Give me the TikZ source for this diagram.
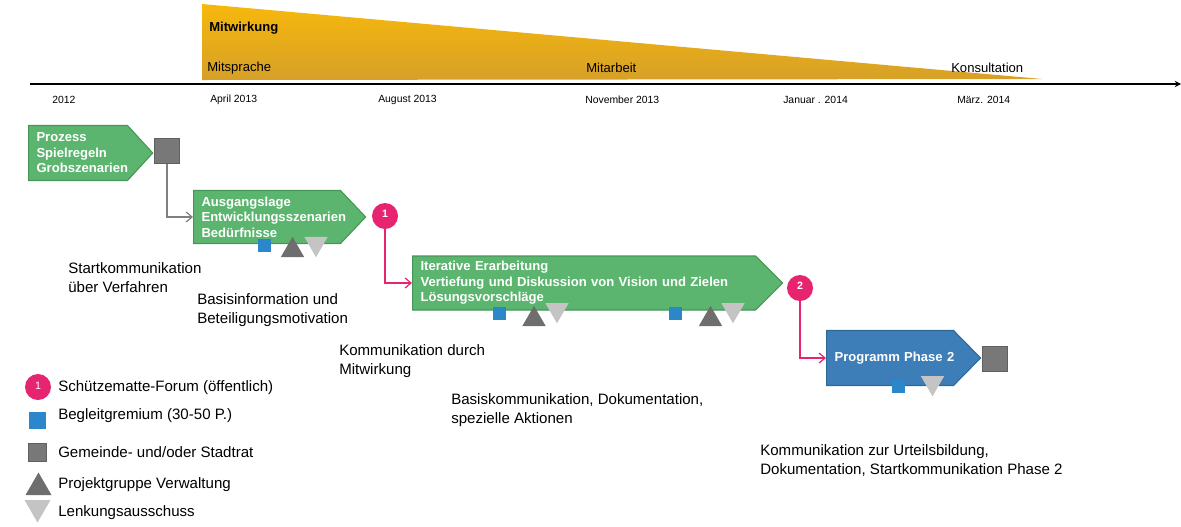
\documentclass[tikz,border=0pt]{standalone}
\usepackage{fontspec}
\setmainfont{Liberation Sans}
\usepackage{tikz}
\usetikzlibrary{calc,shapes,arrows,arrows.meta}

\definecolor{wedgetop}{RGB}{247,184,12}
\definecolor{wedgebot}{RGB}{214,160,40}
\definecolor{boxgreen}{RGB}{92,181,110}
\definecolor{boxgreenline}{RGB}{70,150,88}
\definecolor{boxblue}{RGB}{61,126,185}
\definecolor{boxblueline}{RGB}{46,104,152}
\definecolor{forumpink}{RGB}{230,36,111}
\definecolor{gremblue}{RGB}{43,135,201}
\definecolor{ratgray}{RGB}{120,120,120}
\definecolor{projgray}{RGB}{110,110,110}
\definecolor{lenkgray}{RGB}{196,196,196}
\definecolor{linegray}{RGB}{128,128,128}

\tikzset{
  phase/.style={signal, signal to=east, draw=boxgreenline, fill=boxgreen, line width=0.8pt,
    text=white, align=left, anchor=west, inner xsep=6pt, inner ysep=0pt,
    font=\fontsize{9.8}{11.6}\selectfont\bfseries},
  forum/.style={circle, fill=forumpink, text=white, minimum size=19.5pt, inner sep=0pt,
    font=\fontsize{8}{9}\selectfont\bfseries},
  gremium/.style={rectangle, fill=gremblue, minimum size=9.75pt, inner sep=0pt},
  rat/.style={rectangle, fill=ratgray, draw=ratgray!80!black, line width=0.4pt,
    minimum size=18.75pt, inner sep=0pt},
  projekt/.style={regular polygon, regular polygon sides=3, fill=projgray,
    minimum size=20.25pt, inner sep=0pt},
  lenkung/.style={projekt, fill=lenkgray, shape border rotate=180},
  note/.style={anchor=west, inner sep=0pt, align=left, font=\fontsize{11.3}{14.25}\selectfont},
  datum/.style={anchor=west, inner sep=0pt, font=\fontsize{7.8}{9}\selectfont},
  stufe/.style={anchor=west, inner sep=0pt, font=\fontsize{9.8}{11}\selectfont},
  grauline/.style={draw=linegray, line width=0.9pt, -{Straight Barb[length=4.5pt,width=7.5pt]}},
  pinkline/.style={draw=forumpink, line width=0.9pt, -{Straight Barb[length=4.5pt,width=7.5pt]}}
}

\begin{document}
\begin{tikzpicture}[x=0.75pt,y=-0.75pt]
    \useasboundingbox (0,0) rectangle (1181,526);
    % Mitwirkung
    \shade[top color=wedgetop, bottom color=wedgebot] (202,4) -- (1042,79) -- (202,80) -- cycle;
    \node[stufe, font=\fontsize{9.8}{11}\selectfont\bfseries] (mitw) at (209,28) {Mitwirkung};
    \node[stufe] (msp) at (207,68) {Mitsprache};
    \node[stufe] (mab) at (586,68) {Mitarbeit};
    \node[stufe] (kons) at (951,68) {Konsultation};
    % Zeitachse
    \coordinate (t0) at (30,84);
    \coordinate (t1) at (1181,84);
    \draw[line width=1.1pt,-stealth] (t0) -- (t1);
    \foreach \x/\d in {52/2012, 210/April 2013, 378/August 2013, 585/November 2013, 783/Januar . 2014, 957/März. 2014}
        \node[datum] (d\x) at (\x,100) {\d};

    % Phasen
    \node[phase, text width=62.25pt, minimum height=41.25pt, signal pointer angle=95] (p1) at (28,153)
        {Prozess\\Spielregeln\\Grobszenarien};
    \node[rat] (r1) at (167,151) {};
    \node[phase, text width=98.25pt, minimum height=39.75pt, signal pointer angle=93] (p2) at (193,217)
        {Ausgangslage\\Entwicklungsszenarien\\Bedürfnisse};
    \node[forum] (f1) at (385,216) {\raisebox{4pt}{1}};
    \node[phase, text width=245.25pt, minimum height=40.5pt, signal pointer angle=90] (p3) at (412,283)
        {Iterative Erarbeitung\\Vertiefung und Diskussion von Vision und Zielen\\Lösungsvorschläge};
    \node[forum] (f2) at (800,288) {\raisebox{4pt}{2}};
    \node[phase, fill=boxblue, draw=boxblueline, text width=83.25pt, minimum height=41.25pt,
        signal pointer angle=91] (p4) at (826,358) {\mbox{Programm Phase 2}};
    \node[rat] (r2) at (995,358.5) {};

    \draw[grauline] (r1.south) |- (p2.west);
    \draw[pinkline] (f1.south) |- (p3.west);
    \draw[pinkline] (f2.south) |- (p4.west);

    % Gremien
    \node[gremium] (g2) at (264,245) {};
    \node[projekt] (pg2) at (292.5,250.3) {};
    \node[lenkung] (lk2) at (316,243.7) {};
    \node[gremium] (g3a) at (499,313.5) {};
    \node[projekt] (pg3a) at (534,319.3) {};
    \node[lenkung] (lk3a) at (557,309.8) {};
    \node[gremium] (g3b) at (675.5,313) {};
    \node[projekt] (pg3b) at (710.5,319.3) {};
    \node[lenkung] (lk3b) at (733,309.8) {};
    \node[gremium] (g4) at (898.5,386) {};
    \node[lenkung] (lk4) at (932.5,382.8) {};

    % Kommunikation
    \node[note] (k1) at (68,277.5) {Startkommunikation\\über Verfahren};
    \node[note] (k2) at (197,310.5) {Basisinformation und\\Beteiligungsmotivation};
    \node[note] (k3) at (339,361.5) {Kommunikation durch\\Mitwirkung};
    \node[note] (k4) at (451,410) {Basiskommunikation, Dokumentation,\\spezielle Aktionen};
    \node[note] (k5) at (760,460) {Kommunikation zur Urteilsbildung,\\Dokumentation, Startkommunikation Phase 2};

    % Legende
    \node[forum, font=\fontsize{8}{9}\selectfont] (lf) at (38,387) {\raisebox{2pt}{1}};
    \node[gremium, minimum size=12.75pt] (lg) at (37,420) {};
    \node[rat, minimum size=13.5pt] (lr) at (37,452) {};
    \node[projekt, minimum size=22.5pt] (lp) at (38.5,487.5) {};
    \node[lenkung, minimum size=22.5pt] (ll) at (37.5,507.5) {};
    \node[note] (lt1) at (58,388) {Schützematte-Forum (öffentlich)};
    \node[note] (lt2) at (58,416) {Begleitgremium (30-50 P.)};
    \node[note] (lt3) at (58,452) {Gemeinde- und/oder Stadtrat};
    \node[note] (lt4) at (58,485) {Projektgruppe Verwaltung};
    \node[note] (lt5) at (58,513) {Lenkungsausschuss};
\end{tikzpicture}
\end{document}
